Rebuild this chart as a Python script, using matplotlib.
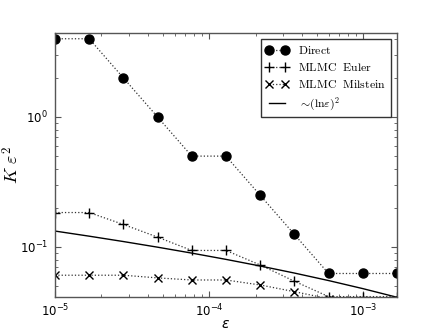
import numpy as np
import matplotlib
matplotlib.use("Agg")
import matplotlib.pyplot as plt
from matplotlib.font_manager import FontProperties

# Data
eps = 1e-5 * (5.0 / 3.0) ** np.arange(11)
direct = [4.0, 4.0, 2.0, 1.0, 0.5, 0.5, 0.25, 0.125, 0.0625, 0.0625, 0.0625]
euler = [0.184, 0.184, 0.149, 0.119, 0.094, 0.094, 0.0727, 0.0545, 0.0415, 0.0415, 0.0415]
milstein = [0.0606, 0.0606, 0.0606, 0.0578, 0.0557, 0.0557, 0.051, 0.0453, 0.040, 0.037, 0.035]
line_coef = 1.0e-3
labels = [r'$\mathrm{Direct}$', r'$\mathrm{MLMC\ \ Euler}$',
          r'$\mathrm{MLMC\ \ Milstein}$', r'$\sim\!(\mathrm{ln}\varepsilon)^2$']

fig = plt.figure(figsize=(4.41, 3.31), dpi=100)
ax = fig.add_axes([0.1247, 0.1027, 0.7753, 0.7961])

gray = '#555555'
dot_col = '#333333'
ax.plot(eps, direct, ':', color=dot_col, lw=0.9, marker='o', ms=6.5,
        mfc='black', mec='black', label=labels[0])
ax.plot(eps, euler, ':', color=dot_col, lw=0.9, marker='+', ms=7, mew=1,
        mfc='black', mec='black', label=labels[1])
ax.plot(eps, milstein, ':', color=dot_col, lw=0.9, marker='x', ms=6, mew=1,
        mfc='black', mec='black', label=labels[2])
ax.plot(eps, line_coef * np.log(eps) ** 2, '-', color='black', lw=1, label=labels[3])

ax.set_xscale('log')
ax.set_yscale('log')
ax.set_xlim(eps[0], eps[-1])
ax.set_ylim(0.0412, 4.39)

for s in ax.spines.values():
    s.set_color(gray)
    s.set_linewidth(1.0)
ax.tick_params(which='both', direction='in', top=True, right=True, color=gray, labelsize=8.5)
ax.tick_params(which='major', length=4)
ax.tick_params(which='minor', length=2)
ax.tick_params(axis='x', pad=4)
ax.tick_params(axis='y', pad=5)

ax.set_xlabel(r'$\varepsilon$', fontsize=10)
ax.xaxis.set_label_coords(0.5, -0.075)
ax.set_ylabel(r'$K\ \varepsilon^2$', fontsize=13, math_fontfamily='cm')
ax.yaxis.set_label_coords(-0.095, 0.5)

prop = FontProperties(size=8.5, math_fontfamily='cm')
leg = ax.legend(loc='upper right', numpoints=2, prop=prop, fancybox=False,
                framealpha=1, edgecolor='#333333', handlelength=2.0,
                borderaxespad=0.5, labelspacing=0.35)
leg.get_frame().set_linewidth(1.0)

fig.savefig('out.png', dpi=100)
